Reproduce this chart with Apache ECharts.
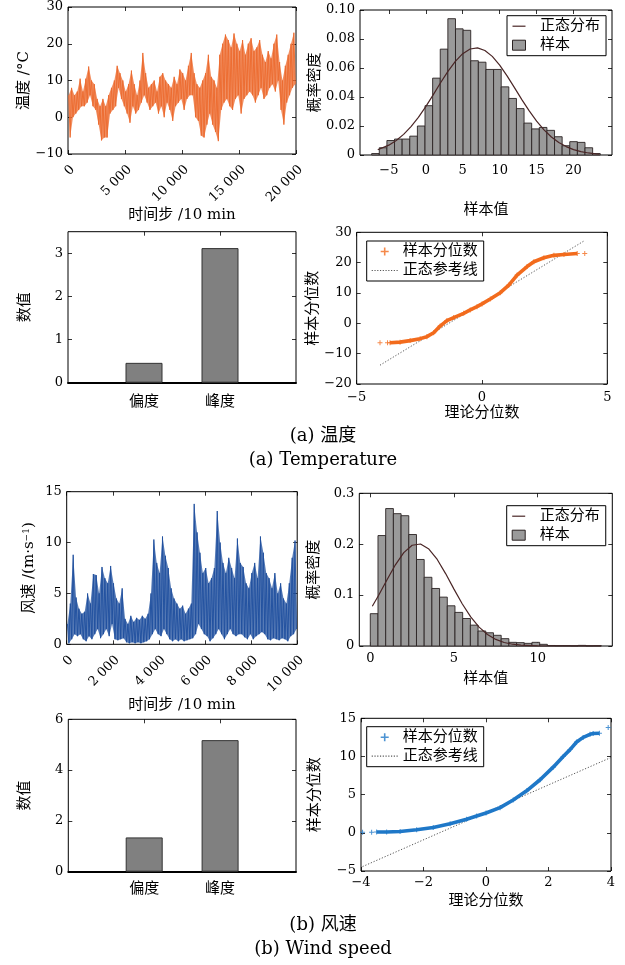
<!DOCTYPE html>
<html><head><meta charset="utf-8">
<script src="https://cdn.jsdelivr.net/npm/echarts@6/dist/echarts.min.js"></script>
<style>html,body{margin:0;padding:0;background:#fff}#c{width:625px;height:965px}</style>
</head><body><div id="c"></div>
<script>
// ---------------- data ----------------
// Temperature time series: envelope (max / min) per 250-step window
const tempSeg = 250;
const tempHi = [6,8,6,7,10.5,7,10.5,13.8,10,9, 5,3,5,3,6,8,10,14,12,10, 7,9,12.7,9,6,10,17.5,12,8,9, 10,7,11,12,10,9,8,11,9,13, 12,10,14,17.5,12,9,8,10,12,17, 11,10,8,17,20,22.5,21,19,22.8,20, 18,21,17,20,21.5,18,19,21,17,15, 18,16,20,22.5,15,10,14,17,20,23];
const tempLo = [-5.5,0,1,2,3,3,4,6,3,2, -2,-6.3,-5.5,-5.5,1,2,3,8,5,3, 1,-1.5,3,1,2,4,6,4,2,3, 4,1,3,0,4,2,-1,3,4,5, 2,5,6,6,0,-1,-5,-5.5,-2,1, -2,-4,-6.5,2,4,5,3,2,5,6, 1,5,6,7,6,4,6,8,5,6, 8,9,7,10,2,-2,4,6,8,9];
// Wind speed time series: envelope per 125-step window
const windSeg = 125;
const windHi = [2,4,8.8,4.6,3.5,3,3.2,5,4,6.9, 6.8,5,7.6,6.5,6,7.7,6,4.5,4,5.5, 2.5,2,2.8,2.2,2.6,2.4,2.8,2.5,3,5, 10.3,8,7,10.6,8.7,7.5,5.5,4.5,4,3.5, 3.8,3,3.5,4,13.8,11,9,7,7.5,6, 6.5,7.5,13.1,10,8,7,8.5,7.5,6.5,10.4, 8,7.6,6,5.5,7,8,6.5,10.6,9,7, 6.5,5.5,7,5,6,4.5,4,6,8.5,10.2];
const windLo = [0.1,0.5,1,0.8,1,0.5,0.3,0.8,0.5,1, 1.5,0.6,1,1.5,0.8,2,0.5,0.4,0.5,0.6, 0.2,0.1,0.2,0.1,0.2,0.1,0.2,0.3,0.5,1, 1.5,1,0.8,1.5,1,0.5,0.3,0.5,0.3,0.5, 0.3,0.4,0.5,0.6,1,2,1.5,1,0.8,0.3, 0.6,1,1.5,1,0.5,1,1.5,1,0.8,1, 1,0.7,0.5,1,0.5,0.8,1,1.2,1,0.5, 0.4,0.6,0.5,0.4,0.6,0.5,0.3,0.8,1,1.5];

// Histograms (probability density per bin)
const tempBinStart = -7.32, tempBinWidth = 1.031;
const tempHist = [0.001,0.005,0.010,0.011,0.011,0.013,0.020,0.034,0.053,0.073,0.094,0.087,0.086,0.065,0.064,0.059,0.059,0.047,0.039,0.032,0.022,0.018,0.019,0.017,0.0126,0.0064,0.0092,0.0087,0.005,0.001];
const windBinStart = 0, windBinWidth = 0.46;
const windHist = [0.0635,0.217,0.270,0.260,0.256,0.219,0.170,0.135,0.113,0.096,0.079,0.066,0.054,0.041,0.0295,0.026,0.021,0.0144,0.0072,0.0066,0.0052,0.0072,0.0033,0.001,0.0007,0.0007,0.0003,0.0012,0.0003,0.0005];

// Fitted normal curves
const tempNormX = [-6.5,-5,-4,-3,-2,-1,0,1,2,3,4,5,6,7,8,9,10,11,12,13,14,15,16,17,18,19,20,21,22,23,23.5];
const tempNormY = [0.0036,0.0068,0.0100,0.0142,0.0196,0.0260,0.0334,0.0415,0.0498,0.0577,0.0646,0.0699,0.0731,0.0739,0.0721,0.0680,0.0620,0.0546,0.0465,0.0382,0.0304,0.0233,0.0173,0.0124,0.0086,0.0058,0.0037,0.0023,0.0014,0.0008,0.0006];
const windNormX = [0.12,0.5,1,1.5,2,2.5,3,3.5,4,4.5,5,5.5,6,6.5,7,7.5,8,8.5,9,10,11,12,13,13.8];
const windNormY = [0.078,0.0997,0.130,0.1595,0.1834,0.1979,0.2004,0.1905,0.170,0.1423,0.1118,0.0825,0.0571,0.037,0.0226,0.0129,0.0069,0.0035,0.0017,0.0003,0.00003,0,0,0];

// Skewness / kurtosis
const statCats = ['偏度', '峰度'];
const tempStats = [0.46, 3.12];
const windStats = [1.35, 5.18];

// QQ plots
const tempQQx = [-4.07,-3.77,-3.67,-3.27,-2.87,-2.47,-2.2,-1.93,-1.67,-1.4,-1.13,-0.73,-0.47,-0.2,0,0.33,0.73,1.07,1.4,1.8,2.07,2.47,2.87,3.27,3.8,4.1];
const tempQQy = [-6.4,-6.4,-6.4,-6.2,-5.7,-5.05,-4.4,-3.1,-0.9,0.9,1.9,3.3,4.4,5.5,6.4,8.0,10.1,12.6,15.9,18.7,20.3,21.6,22.4,22.7,23.0,23.0];
const tempRefX = [-4.07, 4.1], tempRefY = [-13.8, 27.3];
const windQQx = [-3.95,-3.66,-3.5,-3.18,-2.75,-2.22,-1.69,-1.15,-0.62,-0.3,0,0.45,0.87,1.3,1.73,2.15,2.47,2.69,2.9,3.11,3.33,3.43,3.63,3.91];
const windQQy = [0.09,0.09,0.1,0.1,0.18,0.4,0.7,1.2,1.77,2.2,2.6,3.3,4.3,5.5,6.95,8.6,10.0,10.9,11.9,12.5,12.9,13.0,13.05,13.8];
const windRefX = [-3.95, 4.0], windRefY = [-4.42, 9.87];

// ---------------- helpers ----------------
const MIX = "'DejaVu Serif','Noto Sans CJK SC'";
const PLUS = 'path://M4,0H6V4H10V6H6V10H4V6H0V4H4Z';
const LINE_ICON = 'path://M0,0H13V1.2H0Z';
let dots = ''; for (let i = 0; i < 26; i += 2.6) dots += 'M' + i.toFixed(1) + ',0h1.1v1.1h-1.1z';
const DOT_ICON = 'path://' + dots;
const fmtNum = v => String(+(+v).toFixed(6)).replace('-', '\u2212');
const thou = v => v < 1000 ? String(v) : Math.floor(v / 1000) + ' ' + String(v % 1000).padStart(3, '0');
const envRows = (hi, lo, seg) => hi.map((h, i) => [i * seg + seg * 0.25, h, i * seg + seg * 0.75, lo[i]]);
const zigzag = rows => { const out = []; rows.forEach(r => { out.push([r[0], r[1]]); out.push([r[2], r[3]]); }); return out; };
const histData = (h, start, w) => h.map((v, i) => [start + i * w, start + (i + 1) * w, v]);
const zip = (a, b) => a.map((v, i) => [v, b[i]]);

const grids = [
  [68, 7, 228, 147], [360, 10, 252, 145],
  [68, 231.7, 228, 151], [356.7, 232.3, 250.6, 151.7],
  [66.7, 491.7, 230.5, 152.6], [359.3, 493.3, 253, 152.7],
  [68.3, 719.3, 227.7, 152.4], [361, 718.3, 250, 152.7]
];

function axisPair(gi, dim, o) {
  const pos = dim === 'x' ? ['bottom', 'top'] : ['left', 'right'];
  const base = { type: 'value', gridIndex: gi, min: o.min, max: o.max, splitLine: { show: false }, axisLine: { show: false, onZero: false } };
  if (o.interval != null) base.interval = o.interval;
  const tk = { show: true, inside: true, length: 4, lineStyle: { color: '#000', width: 0.8 } };
  if (o.custom) tk.customValues = o.custom;
  const lab = Object.assign({ show: true, color: '#000', fontFamily: MIX, fontSize: 13, margin: o.margin == null ? 5 : o.margin, formatter: o.fmt || fmtNum }, o.label || {});
  if (o.custom) lab.customValues = o.custom;
  const main = Object.assign({}, base, { position: pos[0], axisTick: tk, axisLabel: lab });
  if (o.thickLine) main.axisLine = { show: true, onZero: false, lineStyle: { color: '#000', width: 2 } };
  if (o.name) {
    main.name = o.name; main.nameLocation = 'middle'; main.nameGap = o.nameGap;
    main.nameRotate = dim === 'y' ? 90 : 0;
    main.nameTextStyle = Object.assign({ color: '#000', fontFamily: MIX, fontSize: 15 }, o.nameStyle || {});
  }
  const mirror = Object.assign({}, base, { position: pos[1], axisTick: tk, axisLabel: { show: false } });
  return [main, mirror];
}

const histFmtT = v => v === 0 ? '0' : (+v).toFixed(2);
const histFmtW = v => v === 0 ? '0' : (+v).toFixed(1);
const catFmt = v => statCats[Math.round(v) - 1] || '';

const axX = [
  { min: 0, max: 20000, interval: 5000, fmt: thou, margin: 9, label: { rotate: 45, verticalAlign: 'top' }, name: '时间步 /10 min', nameGap: 50 },
  { min: -8.9, max: 25.2, custom: [-5, 0, 5, 10, 15, 20], margin: 9, name: '样本值', nameGap: 48 },
  { min: 0, max: 3, custom: [1, 2], fmt: catFmt, margin: 12, label: { fontSize: 15 }, thickLine: true },
  { min: -5, max: 5, interval: 5, margin: 7, name: '理论分位数', nameGap: 22 },
  { min: 0, max: 10000, interval: 2000, fmt: thou, margin: 9, label: { rotate: 45, verticalAlign: 'top' }, name: '时间步 /10 min', nameGap: 45 },
  { min: -0.657, max: 14.46, custom: [0, 5, 10], margin: 6, name: '样本值', nameGap: 26 },
  { min: 0, max: 3, custom: [1, 2], fmt: catFmt, margin: 10, label: { fontSize: 15 }, thickLine: true },
  { min: -4, max: 4, interval: 2, margin: 5, name: '理论分位数', nameGap: 23 }
];
const axY = [
  { min: -10, max: 30, interval: 10, name: '温度 /°C', nameGap: 35 },
  { min: 0, max: 0.1, interval: 0.02, fmt: histFmtT, name: '概率密度', nameGap: 37 },
  { min: 0, max: 3.5, custom: [0, 1, 2, 3], name: '数值', nameGap: 35 },
  { min: -20, max: 30, interval: 10, name: '样本分位数', nameGap: 34 },
  { min: 0, max: 15, interval: 5, name: '{n|风速 /(m·s}{s|\u22121}{n|)}', nameGap: 30,
    nameStyle: { rich: { n: { fontSize: 15, fontFamily: MIX, color: '#000' }, s: { fontSize: 9, fontFamily: MIX, color: '#000', verticalAlign: 'top' } } } },
  { min: 0, max: 0.3, interval: 0.1, fmt: histFmtW, name: '概率密度', nameGap: 38 },
  { min: 0, max: 6, interval: 2, name: '数值', nameGap: 36 },
  { min: -5, max: 15, interval: 5, name: '样本分位数', nameGap: 38 }
];

const xAxis = [], yAxis = [];
for (let g = 0; g < 8; g++) { xAxis.push(...axisPair(g, 'x', axX[g])); yAxis.push(...axisPair(g, 'y', axY[g])); }
const ax = g => ({ xAxisIndex: 2 * g, yAxisIndex: 2 * g });

const histRender = (params, api) => {
  const p0 = api.coord([api.value(0), api.value(2)]);
  const p1 = api.coord([api.value(1), 0]);
  return { type: 'rect', shape: { x: p0[0], y: p0[1], width: p1[0] - p0[0], height: p1[1] - p0[1] },
    style: { fill: '#9a9a9a', stroke: '#2a2222', lineWidth: 0.9 } };
};
const bandRender = (rows, color) => (params, api) => {
  if (params.dataIndex !== 0) return null;
  const top = rows.map(r => api.coord([r[0], r[1]]));
  const bot = rows.map(r => api.coord([r[2], r[3]])).reverse();
  return { type: 'polygon', shape: { points: top.concat(bot) }, style: { fill: color, opacity: 0.75 } };
};

const TEMP_C = '#ec6a2e', WIND_C = '#1f4f9e', QQ_T = '#f26b1d', QQ_W = '#1f78c8', NORM_C = '#4a2626';

function tsSeries(g, hi, lo, seg, color) {
  const rows = envRows(hi, lo, seg);
  return [
    Object.assign({ type: 'custom', renderItem: bandRender(rows, color), data: rows, encode: { x: [0, 2], y: [1, 3] }, clip: true, z: 1 }, ax(g)),
    Object.assign({ type: 'line', data: zigzag(rows), symbol: 'none', lineStyle: { color: color, width: 0.9 }, itemStyle: { color: color }, z: 2 }, ax(g))
  ];
}

function qqSeries(g, name, xs, ys, refX, refY, color, refName) {
  const pts = zip(xs, ys);
  return [
    Object.assign({ type: 'line', name: refName, data: zip(refX, refY), symbol: 'none', lineStyle: { color: '#555', width: 1, type: [1.2, 1.8] }, itemStyle: { color: '#555' }, z: 2 }, ax(g)),
    Object.assign({ type: 'line', data: pts.slice(2, pts.length - 1), symbol: 'none', lineStyle: { color: color, width: 3.6 }, itemStyle: { color: color }, z: 3 }, ax(g)),
    Object.assign({ type: 'scatter', name: name, data: pts, symbol: PLUS, symbolSize: 5, itemStyle: { color: color }, z: 4 }, ax(g))
  ];
}

const series = [
  ...tsSeries(0, tempHi, tempLo, tempSeg, TEMP_C),
  Object.assign({ type: 'custom', name: '样本', renderItem: histRender, data: histData(tempHist, tempBinStart, tempBinWidth), encode: { x: [0, 1], y: 2 }, itemStyle: { color: '#9a9a9a', borderColor: '#2a2222', borderWidth: 1 } }, ax(1)),
  Object.assign({ type: 'line', name: '正态分布', data: zip(tempNormX, tempNormY), symbol: 'none', lineStyle: { color: NORM_C, width: 1.2 }, itemStyle: { color: NORM_C }, z: 5 }, ax(1)),
  Object.assign({ type: 'bar', data: tempStats.map((v, i) => [i + 1, v]), barWidth: 37, itemStyle: { color: '#808080', borderColor: '#333', borderWidth: 1 } }, ax(2)),
  ...qqSeries(3, '样本分位数', tempQQx, tempQQy, tempRefX, tempRefY, QQ_T, '正态参考线'),
  ...tsSeries(4, windHi, windLo, windSeg, WIND_C),
  Object.assign({ type: 'custom', name: '样本 ', renderItem: histRender, data: histData(windHist, windBinStart, windBinWidth), encode: { x: [0, 1], y: 2 }, itemStyle: { color: '#9a9a9a', borderColor: '#2a2222', borderWidth: 1 } }, ax(5)),
  Object.assign({ type: 'line', name: '正态分布 ', data: zip(windNormX, windNormY), symbol: 'none', lineStyle: { color: NORM_C, width: 1.2 }, itemStyle: { color: NORM_C }, z: 5 }, ax(5)),
  Object.assign({ type: 'bar', data: windStats.map((v, i) => [i + 1, v]), barWidth: 37, itemStyle: { color: '#808080', borderColor: '#333', borderWidth: 1 } }, ax(6)),
  ...qqSeries(7, '样本分位数 ', windQQx, windQQy, windRefX, windRefY, QQ_W, '正态参考线 ')
];

function legendBox(left, top, items, iw, ih, fmt) {
  return { orient: 'vertical', left: left, top: top, data: items, itemWidth: iw, itemHeight: ih, itemGap: 2,
    padding: [2, 6, 2, 5], borderColor: '#000', borderWidth: 1, backgroundColor: '#fff', borderRadius: 0,
    selectedMode: false, formatter: fmt, symbolKeepAspect: true,
    textStyle: { fontSize: 15, fontFamily: MIX, color: '#000', lineHeight: 17 } };
}
const histItems = (a, b) => [{ name: a, icon: LINE_ICON }, { name: b, icon: 'rect', itemStyle: { color: '#9a9a9a', borderColor: '#2a2222', borderWidth: 1 } }];
const qqItems = (a, b) => [{ name: a, icon: PLUS }, { name: b, icon: DOT_ICON, itemStyle: { color: '#555' } }];
const hf = n => '  ' + n.trim();
const qf = n => n.trim();

const legend = [
  legendBox(507, 15.7, histItems('正态分布', '样本'), 13, 10, hf),
  legendBox(366.7, 241, qqItems('样本分位数', '正态参考线'), 26, 8, qf),
  legendBox(506.7, 505.7, histItems('正态分布 ', '样本 '), 13, 10, hf),
  legendBox(366.7, 726.7, qqItems('样本分位数 ', '正态参考线 '), 26, 8, qf)
];

const cap = (text, y) => ({ type: 'text', x: 323, y: y, style: { text: text, font: "18px " + MIX, fill: '#000', align: 'center', verticalAlign: 'middle', textAlign: 'center', textVerticalAlign: 'middle' } });

const option = {
  animation: false,
  backgroundColor: '#fff',
  grid: grids.map(g => ({ left: g[0], top: g[1], width: g[2], height: g[3], show: true, borderColor: '#000', borderWidth: 1, backgroundColor: 'transparent' })),
  xAxis: xAxis, yAxis: yAxis, series: series, legend: legend,
  graphic: [cap('(a) 温度', 436), cap('(a) Temperature', 460), cap('(b) 风速', 925), cap('(b) Wind speed', 949)]
};
const chart = echarts.init(document.getElementById('c'), null, { renderer: 'canvas' });
chart.setOption(option);
</script></body></html>
